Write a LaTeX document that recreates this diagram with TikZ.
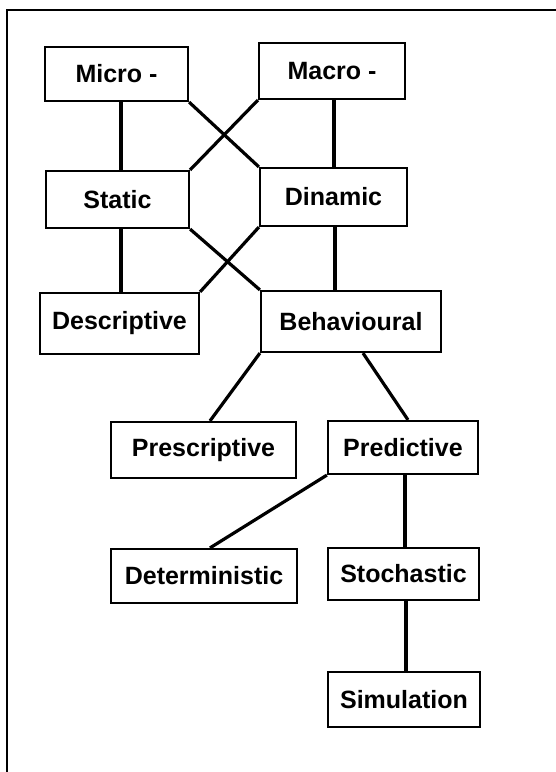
\documentclass[tikz,border=0pt]{standalone}
\usepackage{fontspec}
\setmainfont{Liberation Sans}
\begin{document}
\begin{tikzpicture}[x=1pt,y=-1pt,
  box/.style={draw, line width=2.2pt, inner sep=0pt, font=\fontsize{25}{28}\selectfont\bfseries},
  link/.style={line width=3.2pt},
  frame/.style={line width=2.6pt}]
\useasboundingbox (0,0) rectangle (556,772);
% frame (top and left edges)
\coordinate (fl) at (7,772);
\coordinate (fc) at (7,10);
\coordinate (fr) at (556,10);
\draw[frame] (fl) -- (fc) -- (fr);
% boxes
\node[box, minimum width=143pt, minimum height=54pt] (micro) at (116.5,74) {Micro -};
\node[box, minimum width=146pt, minimum height=56pt] (macro) at (332,71) {Macro -};
\node[box, minimum width=143pt, minimum height=57pt] (static) at (117.5,199.5) {Static};
\node[box, minimum width=147pt, minimum height=58pt] (dinamic) at (333.5,197) {Dinamic};
\node[box, minimum width=159pt, minimum height=61pt] (descr) at (119.5,323.5) {Descriptive};
\node[box, minimum width=180pt, minimum height=61pt] (behav) at (351,321.5) {Behavioural};
\node[box, minimum width=185pt, minimum height=56pt] (prescr) at (203.5,450) {Prescriptive};
\node[box, minimum width=150pt, minimum height=53pt] (predict) at (403,447.5) {Predictive};
\node[box, minimum width=186pt, minimum height=54pt] (determ) at (204,576) {Deterministic};
\node[box, minimum width=151pt, minimum height=52pt] (stoch) at (403.5,574) {Stochastic};
\node[box, minimum width=152pt, minimum height=55pt] (simul) at (404,699.5) {Simulation};
% connectors
\draw[link] ([xshift=4.5pt]micro.south) -- ([xshift=4.5pt]micro.south |- static.north);
\draw[link] ([xshift=2pt]macro.south) -- ([xshift=2pt]macro.south |- dinamic.north);
\draw[link] (micro.south east) -- (dinamic.north west);
\draw[link] (macro.south west) -- (static.north east);
\draw[link] ([xshift=3.5pt]static.south) -- ([xshift=3.5pt]static.south |- descr.north);
\draw[link] ([xshift=1.5pt]dinamic.south) -- ([xshift=1.5pt]dinamic.south |- behav.north);
\draw[link] (static.south east) -- (behav.north west);
\draw[link] (dinamic.south west) -- (descr.north east);
\draw[link] (behav.south west) -- ([xshift=6.5pt]prescr.north);
\draw[link] ([xshift=12pt]behav.south) -- ([xshift=5pt]predict.north);
\draw[link] (predict.south west) -- ([xshift=6pt]determ.north);
\draw[link] ([xshift=2pt]predict.south) -- ([xshift=2pt]predict.south |- stoch.north);
\draw[link] ([xshift=2.5pt]stoch.south) -- ([xshift=2.5pt]stoch.south |- simul.north);
\end{tikzpicture}
\end{document}
